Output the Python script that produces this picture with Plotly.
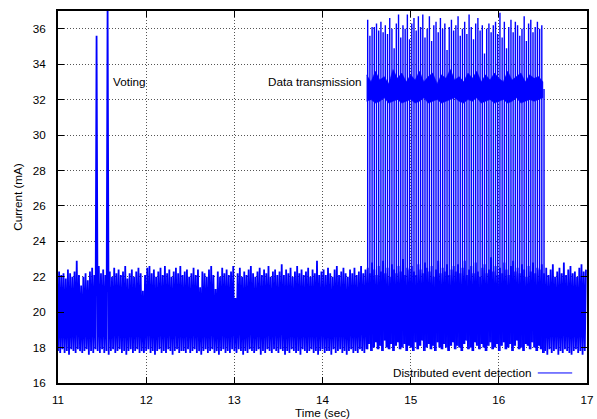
import plotly.graph_objects as go

# ---- sampling of the recorded current trace ----
time_start = 11.0          # s, first bin
bin_step = 0.025           # s, width of one bin

# lower / upper extent of the idle current noise in each bin (mA)
idle_low = [
    17.8, 17.7, 17.9, 17.7, 17.8, 17.6, 17.9, 17.8, 17.7, 17.9, 17.8, 17.7, 17.8, 17.9, 17.6, 17.8, 17.7, 17.9, 17.8, 17.7,
    17.9, 17.7, 17.8, 17.6, 17.8, 17.9, 17.7, 17.8, 17.9, 17.7, 17.8, 17.6, 17.8, 17.9, 17.7, 17.8, 17.9, 17.7, 17.8, 17.7,
    17.8, 17.9, 17.7, 17.8, 17.6, 17.8, 17.9, 17.7, 17.8, 17.7, 17.9, 17.8, 17.6, 17.8, 17.9, 17.7, 17.8, 17.8, 17.7, 17.9,
    17.7, 17.8, 17.9, 17.7, 17.8, 17.6, 17.8, 17.9, 17.7, 17.8, 17.9, 17.7, 17.8, 17.6, 17.8, 17.9, 17.7, 17.8, 17.7, 17.9,
    17.8, 17.7, 17.9, 17.8, 17.6, 17.8, 17.7, 17.9, 17.8, 17.7, 17.8, 17.9, 17.6, 17.8, 17.7, 17.9, 17.8, 17.7, 17.9, 17.8,
    17.7, 17.9, 17.8, 17.6, 17.8, 17.7, 17.9, 17.8, 17.7, 17.8, 17.6, 17.9, 17.8, 17.7, 17.8, 17.9, 17.7, 17.8, 17.6, 17.8,
    17.9, 17.7, 17.8, 17.8, 17.6, 17.9, 17.7, 17.8, 17.9, 17.7, 17.8, 17.6, 17.8, 17.9, 17.7, 17.8, 17.7, 17.9, 17.8, 17.7,
    17.9, 18.2, 17.8, 18.0, 18.3, 17.9, 18.1, 17.8, 18.4, 18.0, 17.9, 18.2, 17.8, 18.1, 18.3, 17.9, 18.0, 18.2, 17.8, 18.1,
    18.0, 17.8, 18.3, 17.9, 18.1, 18.4, 17.8, 18.0, 18.2, 17.9, 18.1, 17.8, 18.3, 18.0, 17.9, 18.2, 18.0, 17.8, 18.1, 18.3,
    17.9, 18.1, 18.0, 17.8, 18.2, 18.4, 17.9, 18.0, 17.8, 18.3, 18.1, 17.9, 18.2, 18.0, 17.8, 18.1, 18.3, 17.9, 18.0, 18.2,
    17.8, 18.1, 18.3, 17.9, 18.0, 18.2, 17.8, 18.1, 18.4, 17.9, 18.0, 17.8, 18.2, 18.1, 17.9, 18.3, 18.0, 17.8, 18.1, 17.9,
    17.7, 17.8, 17.6, 17.9, 17.7, 17.8, 17.9, 17.6, 17.8, 17.7, 17.9, 17.8, 17.7, 17.6, 17.8, 17.9, 17.7, 17.8, 17.6, 17.8,
]
idle_high = [
    22.3, 22.1, 22.2, 21.9, 22.4, 22.2, 22.0, 22.3, 22.9, 22.1, 21.5, 22.0, 22.2, 21.8, 22.3, 22.5, 22.1, 35.6, 22.6, 22.2,
    22.4, 22.1, 37.5, 22.3, 22.0, 22.5, 22.2, 22.4, 22.1, 22.3, 22.6, 21.9, 22.2, 22.4, 22.0, 22.3, 22.5, 22.2, 21.2, 22.1,
    22.5, 22.6, 22.2, 22.4, 22.0, 22.3, 22.5, 22.1, 22.6, 22.2, 22.4, 22.0, 22.3, 22.5, 22.2, 22.6, 22.1, 22.3, 22.4, 22.0,
    22.2, 22.5, 22.1, 22.4, 21.4, 22.3, 22.2, 22.0, 22.4, 22.6, 22.1, 21.3, 22.3, 22.0, 22.5, 22.2, 22.4, 22.1, 22.3, 22.6,
    20.8, 22.2, 22.5, 22.0, 22.3, 22.1, 22.4, 22.6, 22.2, 22.0, 22.3, 22.5, 22.1, 22.4, 22.2, 22.6, 22.0, 22.3, 22.4, 22.1,
    22.3, 22.7, 22.1, 22.4, 22.2, 22.5, 22.0, 22.3, 22.6, 22.2, 22.4, 22.1, 22.3, 22.5, 22.0, 22.4, 22.2, 22.9, 22.1, 22.3,
    22.4, 22.1, 22.5, 22.2, 22.0, 22.4, 22.6, 22.1, 22.3, 22.5, 22.2, 22.0, 22.4, 22.2, 22.5, 22.1, 22.3, 22.6, 22.2, 22.4,
    22.5, 22.2, 22.8, 22.4, 22.1, 22.6, 22.3, 22.9, 22.2, 22.5, 22.0, 22.7, 22.4, 22.2, 22.6, 22.3, 23.0, 22.1, 22.5, 22.4,
    22.6, 22.3, 22.1, 22.7, 22.4, 22.2, 22.8, 22.5, 22.3, 22.6, 22.0, 22.4, 22.9, 22.2, 22.5, 22.3, 22.7, 22.1, 22.4, 22.6,
    22.3, 22.7, 22.2, 22.5, 22.9, 22.1, 22.4, 22.6, 22.2, 22.8, 22.3, 22.0, 22.5, 22.7, 22.2, 22.4, 23.1, 22.3, 22.6, 22.1,
    22.5, 22.2, 22.8, 22.4, 22.1, 22.6, 22.9, 22.3, 22.5, 22.2, 22.7, 22.4, 22.0, 22.6, 22.3, 22.8, 22.2, 22.5, 22.4, 22.7,
    22.2, 22.5, 22.1, 22.4, 22.7, 22.0, 22.3, 22.5, 22.2, 22.8, 22.1, 22.4, 22.6, 22.2, 22.3, 22.0, 22.5, 22.7, 22.3, 22.4,
]

# radio bursts during data transmission: first bin index and peak current per bin (mA)
tx_start_index = 140
tx_peak = [
    36.5, 35.6, 36.1, 36.1, 36.3, 35.9, 36.4, 35.8, 36.2, 35.7, 36.6, 36.0, 34.9, 36.3, 36.8, 35.5, 36.2, 36.0, 36.8, 35.4,
    36.3, 36.6, 35.9, 36.7, 36.1, 36.8, 35.5, 36.0, 36.7, 35.3, 36.2, 36.4, 35.8, 36.6, 36.0, 36.3, 34.8, 36.1, 36.5, 35.9,
    36.2, 36.7, 35.6, 36.0, 36.4, 35.7, 36.8, 36.1, 35.4, 36.3, 36.6, 35.9, 36.2, 34.6, 36.0, 36.3, 35.8, 36.2, 36.4, 35.7,
    36.9, 35.5, 36.4, 34.9, 36.1, 36.5, 35.8, 36.4, 36.2, 35.6, 36.0, 36.7, 35.3, 36.3, 36.5, 35.8, 36.1, 36.4, 36.0, 36.2,
    32.6,
]

# dense radio-on plateau during transmission (envelope every 0.05 s)
band_start = 14.5
band_step = 0.05
band_upper = [33.4, 33.0, 33.6, 33.1, 33.3, 32.9, 33.7, 33.2, 33.5, 33.0, 33.4,
              33.1, 33.6, 33.0, 33.3, 33.5, 32.9, 33.4, 33.2, 33.7, 33.1,
              33.3, 33.0, 33.5, 33.2, 33.6, 33.0, 33.4, 33.1, 33.5, 33.2,
              33.0, 33.6, 33.1, 33.3, 33.5, 33.0, 33.4, 33.2, 33.3, 33.0]
band_lower = [31.9, 32.0, 31.8, 31.9, 32.1, 31.8, 31.9, 32.0, 31.8, 31.9, 32.0,
              31.8, 31.9, 32.1, 31.8, 31.9, 32.0, 31.8, 31.9, 32.0, 32.1,
              31.9, 31.8, 32.0, 31.9, 32.1, 31.8, 31.9, 32.0, 31.8, 31.9,
              32.0, 31.8, 31.9, 32.1, 31.8, 31.9, 32.0, 31.9, 32.0, 32.1]

x_ticks = [11, 12, 13, 14, 15, 16, 17]
y_ticks = [16, 18, 20, 22, 24, 26, 28, 30, 32, 34, 36]

BLUE = "#0000ff"
FONT = "Liberation Sans, Arial, Helvetica, sans-serif"
FS = 11.7

# ---- build traces ----
x_idle, y_idle = [], []
for i, (lo, hi) in enumerate(zip(idle_low, idle_high)):
    t = time_start + i * bin_step
    x_idle += [t, t + bin_step / 2]
    y_idle += [lo, hi]

x_tx, y_tx = [], []
for j, pk in enumerate(tx_peak):
    i = tx_start_index + j
    t = time_start + i * bin_step + bin_step / 2
    x_tx += [t, t, None]
    y_tx += [idle_low[i], pk, None]

band_t = [band_start + k * band_step for k in range(len(band_upper))]
x_band = band_t + band_t[::-1]
y_band = band_upper + band_lower[::-1]

fig = go.Figure()
fig.add_trace(go.Scatter(x=x_idle, y=y_idle, mode="lines",
                         line=dict(color=BLUE, width=1.8, simplify=False), showlegend=False,
                         name="Distributed event detection"))
fig.add_trace(go.Scatter(x=x_tx, y=y_tx, mode="lines",
                         line=dict(color=BLUE, width=1.4, simplify=False), showlegend=False))
fig.add_trace(go.Scatter(x=x_band, y=y_band, mode="lines", fill="toself",
                         fillcolor=BLUE, line=dict(color=BLUE, width=0.5, simplify=False),
                         showlegend=False))

axis_common = dict(
    showline=True, linecolor="black", linewidth=2, mirror="allticks",
    ticks="inside", ticklen=6, tickwidth=1, tickcolor="black",
    showgrid=True, gridcolor="#555555", griddash="1px,2px", gridwidth=1,
    zeroline=False, automargin=False,
    tickfont=dict(family=FONT, size=FS, color="black"),
)

fig.update_layout(
    width=597, height=419,
    margin=dict(l=58, r=10, t=11, b=36),
    paper_bgcolor="white", plot_bgcolor="white",
    font=dict(family=FONT, size=FS, color="black"),
    xaxis=dict(range=[11, 17], tickvals=x_ticks, ticklabelstandoff=5,
               title=dict(text="Time (sec)", font=dict(family=FONT, size=FS), standoff=8),
               **axis_common),
    yaxis=dict(range=[16, 37], tickvals=y_ticks, ticklabelstandoff=8,
               title=dict(text="Current (mA)", font=dict(family=FONT, size=FS), standoff=8),
               **axis_common),
    annotations=[
        dict(x=11.6, y=33.0, xref="x", yref="y", text="Voting", showarrow=False,
             xanchor="left", yanchor="middle", font=dict(family=FONT, size=FS)),
        dict(x=14.47, y=33.0, xref="x", yref="y", text="Data transmission", showarrow=False,
             xanchor="right", yanchor="middle", font=dict(family=FONT, size=FS)),
        dict(x=0.898, y=0.027, xref="paper", yref="paper", text="Distributed event detection",
             showarrow=False, xanchor="right", yanchor="middle", font=dict(family=FONT, size=FS)),
    ],
    shapes=[
        dict(type="line", xref="paper", yref="paper", x0=0.907, x1=0.972, y0=0.027, y1=0.027,
             line=dict(color=BLUE, width=1)),
    ],
)

# remove the browser's default 8px page margin so the figure fills the window
fig.write_html("out.html", config={"displayModeBar": False},
               post_script="document.body.style.margin='0px';document.body.style.overflow='hidden';")
